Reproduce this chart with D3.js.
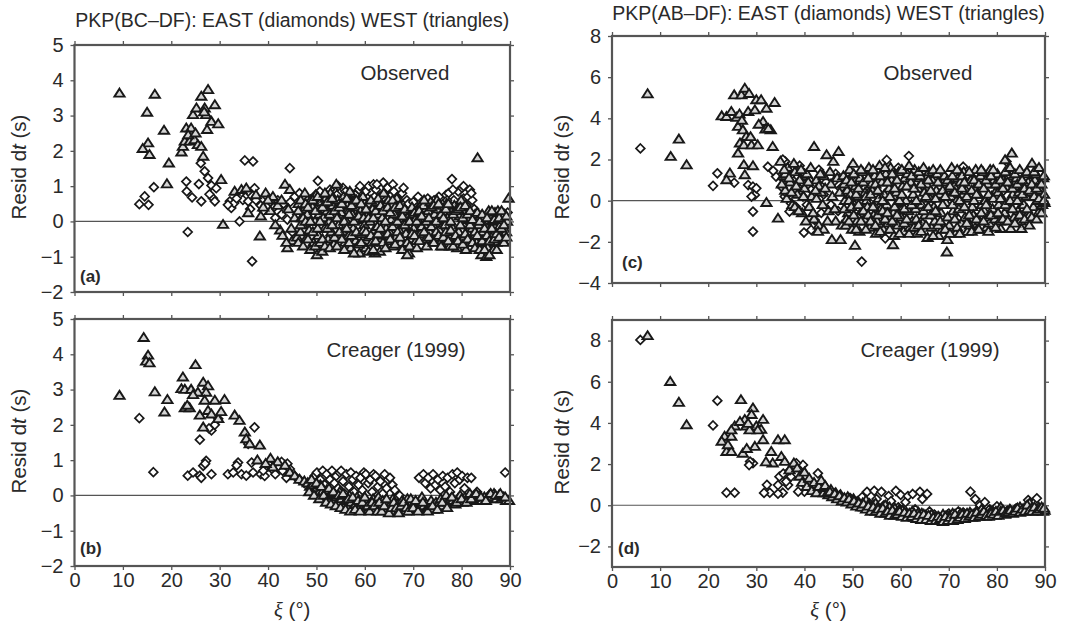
<!DOCTYPE html>
<html>
<head>
<meta charset="utf-8">
<script src="https://cdn.jsdelivr.net/npm/d3@7"></script>
<style>
  body { margin: 0; background: #fff; }
  text { font-family: "Liberation Sans", Arial, sans-serif; fill: #2a2a2a; }
  .tick line { stroke: #555; stroke-width: 1.3; }
</style>
</head>
<body>
<div id="chart"></div>
<script>
// ---- data: [xi (deg), residual dt (s)] ----
var obsBcWest = [
[9.3,3.63],[16.6,3.6],[15.0,3.09],[18.5,2.58],[15.2,2.22],[14.1,2.06],[15.5,1.89],[19.5,1.65],[19.1,1.06],
[22.1,1.96],[22.4,2.12],[22.8,2.27],[23.1,2.64],[23.8,2.27],[24.1,2.64],[24.8,2.31],[25.5,2.17],[26.2,2.12],
[24.5,3.02],[25.2,3.21],[26.2,3.54],[26.9,3.21],[27.6,3.73],[27.2,3.02],[28.3,2.83],[29.0,3.3],[29.7,2.76],
[27.4,2.6],[26.6,1.84],[30.3,1.18],[30.7,-0.09],[38.3,-0.42],[23.5,2.45],[25.0,2.5],[26.8,3.1],
[33.1,0.85],[34.5,0.9],[35.5,0.94],[35.9,0.24],[37.5,0.75],[38.5,0.15],[39.5,0.8],[40.5,0.3],[41.0,0.7],
[42.0,0.45],[42.5,-0.25],[43.0,-0.4],[43.5,1.05],[44.0,-0.75],[44.5,0.9],[45.0,-0.55],[43.8,-0.6],[44.2,0.35],
[45.5,0.1],[46.0,-0.45],[41.5,-0.1],[40.0,0.6],[39.0,0.4],[42.8,0.6],[44.8,-0.2],
[46.3,0.5],[46.7,-0.3],[46.9,0.1],[47.6,0.8],[47.2,-0.1],[47.5,0.35],[47.8,-0.5],
[48.1,0.2],[48.5,-0.25],[48.8,0.6],[49.2,0.4],[49.4,-0.6],[49.7,0.0],[49.9,0.75],
[50.1,-0.95],[50.4,-0.4],[50.6,0.2],[50.9,0.55],[51.2,-0.85],[51.4,0.1],[51.7,-0.2],[51.9,0.65],
[52.2,0.3],[52.4,-0.5],[52.7,0.0],[52.9,0.8],[53.1,-0.3],[53.4,0.45],[53.6,-0.65],[53.9,0.15],
[54.1,1.05],[54.4,0.6],[54.6,-0.1],[54.9,-0.45],[55.1,0.25],[55.4,-0.3],[55.6,0.7],[55.9,-0.6],
[56.2,0.0],[56.4,0.45],[56.7,-0.4],[56.9,0.85],[57.1,-0.75],[57.4,0.2],[57.6,-0.2],[57.9,0.6],
[58.1,-0.55],[58.4,0.05],[58.6,0.4],[58.9,-0.9],[59.1,0.3],[59.4,-0.35],[59.6,0.7],[59.9,-0.1],
[60.2,-0.75],[60.4,0.15],[60.7,-0.45],[60.9,0.5],[61.1,0.0],[61.4,-0.6],[61.6,0.35],[61.9,-0.25],
[62.1,-0.9],[62.4,0.55],[62.6,-0.15],[62.9,0.2],[63.1,-0.85],[63.4,-0.4],[63.6,0.1],[63.9,0.8],
[64.1,0.3],[64.4,-0.2],[64.6,-0.55],[64.9,0.6],[65.1,-0.3],[65.4,0.05],[65.6,0.45],[65.9,-0.7],
[66.1,0.2],[66.4,-0.45],[66.6,0.65],[66.9,-0.1],[67.1,-0.25],[67.4,-0.6],[67.6,0.0],[67.9,0.3],
[68.2,-0.8],[68.5,-0.35],[68.8,0.1],[69.1,-0.9],[69.4,-0.5],[69.6,-0.15],[69.9,0.2],
[70.1,-0.2],[70.4,0.05],[70.6,-0.55],[70.9,0.35],[71.2,0.0],[71.5,-0.35],[71.8,0.5],
[72.1,0.45],[72.4,-0.1],[72.6,-0.5],[72.9,0.2],[73.1,0.3],[73.4,-0.3],[73.6,0.55],[73.9,-0.6],
[74.1,-0.1],[74.4,0.2],[74.6,-0.45],[74.9,0.6],[75.1,0.35],[75.4,-0.25],[75.6,0.05],[75.9,-0.55],
[76.1,-0.7],[76.4,0.25],[76.6,-0.1],[76.9,0.5],[77.1,0.1],[77.4,-0.4],[77.6,-0.7],[77.9,0.3],
[78.2,-0.2],[78.5,0.45],[78.8,-0.55],[79.1,-0.75],[79.4,-0.3],[79.6,0.15],[79.9,0.6],
[80.1,-0.5],[80.4,-0.1],[80.6,0.3],[80.9,-0.8],[81.2,-0.3],[81.5,0.05],[81.8,-0.6],
[82.2,-0.2],[82.5,-0.45],[82.8,0.2],[83.3,1.8],[83.1,-0.6],[83.5,-0.1],[83.8,0.15],
[84.1,-0.95],[84.4,-0.3],[84.6,0.1],[84.9,-0.6],[85.1,-1.0],[85.4,-0.75],[85.6,0.3],[85.9,-0.2],
[86.1,-0.45],[86.4,0.0],[86.6,-0.8],[86.9,0.25],[87.2,-0.6],[87.5,0.3],[87.8,-0.15],
[88.1,-0.4],[88.4,0.1],[88.6,-0.55],[88.9,0.2],[89.2,-0.3],[89.4,0.0],[89.7,0.65]
];
var obsBcWestCloud = [
[46.25,0.3],[46.25,-0.6],[46.75,0.6],[46.75,-0.1],[47.25,0.1],[47.25,-0.7],[47.75,0.5],[47.75,0.0],
[48.25,-0.5],[48.25,0.4],[48.75,0.0],[48.75,-0.8],[49.25,0.6],[49.25,-0.3],[49.75,-0.7],[49.75,0.3],
[50.25,0.7],[50.25,-0.2],[50.75,-0.6],[50.75,0.0],[51.25,0.4],[51.25,-0.5],[51.75,0.8],[51.75,-0.7],
[52.25,-0.2],[52.25,0.55],[52.75,-0.75],[52.75,0.2],[53.25,0.65],[53.25,-0.1],[53.75,-0.45],[53.75,0.3],
[54.25,0.1],[54.25,-0.7],[54.75,0.4],[54.75,-0.3],[55.25,-0.5],[55.25,0.5],[55.75,0.0],[55.75,-0.8],
[56.25,0.65],[56.25,-0.2],[56.75,0.2],[56.75,-0.6],[57.25,-0.4],[57.25,0.45],[57.75,0.0],[57.75,-0.9],
[58.25,0.6],[58.25,-0.3],[58.75,0.15],[58.75,-0.65],[59.25,0.5],[59.25,-0.6],[59.75,-0.25],[59.75,0.1],
[60.25,0.35],[60.25,-0.3],[60.75,-0.85],[60.75,0.1],[61.25,0.6],[61.25,-0.4],[61.75,0.1],[61.75,-0.8],
[62.25,0.3],[62.25,-0.55],[62.75,-0.35],[62.75,0.65],[63.25,0.45],[63.25,-0.2],[63.75,-0.6],[63.75,0.3],
[64.25,0.0],[64.25,-0.75],[64.75,0.4],[64.75,-0.35],[65.25,0.25],[65.25,-0.5],[65.75,-0.15],[65.75,0.6],
[66.25,-0.65],[66.25,0.4],[66.75,0.0],[66.75,-0.3],[67.25,0.45],[67.25,-0.45],[67.75,-0.8],[67.75,0.15],
[68.25,-0.1],[68.25,0.35],[68.75,-0.6],[68.75,-0.95],[69.25,0.0],[69.25,-0.7],[69.75,-0.35],[69.75,0.4],
[70.25,0.25],[70.25,-0.4],[70.75,-0.75],[70.75,0.0],[71.25,0.3],[71.25,-0.55],[71.75,-0.15],[71.75,0.15],
[72.25,-0.3],[72.25,0.6],[72.75,0.0],[72.75,-0.7],[73.25,0.1],[73.25,-0.45],[73.75,0.4],[73.75,-0.15],
[74.25,0.45],[74.25,-0.6],[74.75,0.0],[74.75,-0.3],[75.25,-0.4],[75.25,0.5],[75.75,0.2],[75.75,-0.7],
[76.25,0.1],[76.25,-0.45],[76.75,0.35],[76.75,-0.3],[77.25,-0.55],[77.25,0.5],[77.75,0.0],[77.75,-0.25],
[78.25,0.2],[78.25,-0.7],[78.75,-0.4],[78.75,0.3],[79.25,0.35],[79.25,-0.55],[79.75,-0.1],[79.75,0.4],
[80.25,0.1],[80.25,-0.65],[80.75,-0.35],[80.75,0.45],[81.25,-0.5],[81.25,0.2],[81.75,-0.1],[81.75,0.3],
[82.25,-0.6],[82.25,0.05],[82.75,-0.3],[82.75,-0.75],[83.25,-0.4],[83.25,0.25],[83.75,-0.8],[83.75,0.0],
[84.25,-0.55],[84.25,0.2],[84.75,-0.2],[84.75,-0.8],[85.25,-0.4],[85.25,0.1],[85.75,-0.55],[85.75,-0.95],
[86.25,-0.2],[86.25,0.3],[86.75,-0.5],[86.75,0.05],[87.25,-0.35],[87.25,-0.8],[87.75,0.1],[87.75,-0.45],
[88.25,-0.2],[88.25,0.3],[88.75,-0.6],[88.75,-0.1],[89.25,-0.45],[89.25,0.15]
];
var obsBcEast = [
[13.4,0.49],[14.5,0.71],[15.3,0.47],[16.4,0.97],[23.4,-0.3],[36.7,-1.13],[23.1,1.13],[23.2,0.85],[24.3,0.68],
[25.7,1.06],[26.2,0.57],[26.1,1.65],[26.9,1.42],[27.6,1.23],[28.3,1.02],[28.6,0.66],[29.0,0.57],[27.9,0.77],
[29.3,0.94],[35.2,1.73],[36.9,1.7],[44.5,1.51],[32.1,0.57],[32.4,0.38],[33.0,0.52],[34.1,0.76],[34.8,0.61],
[35.9,0.85],[37.2,0.94],[34.1,0.0],[35.9,0.57],[31.7,0.47],[33.5,0.65],[36.3,0.35],
[37.5,0.6],[38.5,0.45],[39.0,0.3],[39.8,0.7],[40.5,0.55],[41.2,0.4],[42.0,0.6],[42.8,0.2],[43.2,0.5],
[44.0,0.05],[44.6,0.55],[45.0,-0.3],[45.5,0.7],[46.2,0.15],[41.5,0.1],
[47.1,0.45],[47.7,0.2],[48.2,0.6],[48.7,0.1],[49.3,0.3],[49.8,0.75],[50.3,1.15],[50.6,0.5],[50.9,0.05],
[51.3,0.35],[51.8,0.7],[52.1,0.15],[52.5,0.55],[52.8,0.9],[53.3,0.4],[53.7,0.0],[54.2,0.75],[54.7,0.3],
[55.2,0.5],[55.5,0.95],[55.8,0.1],[56.3,0.65],[56.7,0.25],[57.2,0.8],[57.7,0.4],[58.2,0.55],[58.5,0.1],
[58.8,0.9],[59.3,0.3],[59.7,0.7],[60.2,0.85],[60.5,0.45],[60.8,1.0],[61.2,0.2],[61.5,0.6],[61.8,1.05],
[62.3,0.9],[62.7,0.35],[63.2,0.7],[63.5,0.15],[63.8,1.1],[64.3,0.5],[64.7,0.95],[65.1,0.3],[65.5,0.75],
[65.8,1.05],[66.3,0.55],[66.7,0.15],[67.2,0.4],[67.7,0.8],[68.3,0.2],[68.7,0.6],[69.2,0.05],[69.7,0.35],
[70.3,0.25],[70.7,-0.05],[71.3,0.4],[71.7,0.15],[72.3,0.55],[72.7,0.3],[73.3,0.2],[73.7,0.45],
[74.3,0.6],[74.7,0.35],[75.3,0.7],[75.7,0.15],[76.2,0.5],[76.5,0.25],[76.8,0.75],[77.3,0.8],[77.7,0.4],
[78.0,1.2],[78.4,0.6],[78.7,0.3],[79.3,0.85],[79.7,0.5],[80.1,0.95],[80.4,0.65],[80.7,0.35],[81.3,0.7],
[81.7,0.9],[82.2,0.6],[82.6,0.35],[83.2,-0.1],[85.2,0.05],[89.5,0.25],
[46.5,0.8],[47.4,0.0],[48.9,0.45],[49.6,0.15],[50.7,0.85],[51.5,0.55],[52.3,0.25],[53.0,0.7],[53.9,0.55],
[54.5,1.0],[55.0,0.2],[56.0,0.85],[56.9,0.55],[57.5,0.15],[58.0,0.75],[59.0,1.0],[59.9,0.1],[60.6,0.65],
[61.0,0.35],[62.0,0.7],[62.5,1.05],[63.0,0.45],[64.0,0.8],[64.9,0.1],[65.3,0.55],[66.0,0.85],[67.0,0.6],
[68.0,0.95],[69.0,0.5],[70.0,0.55],[71.0,0.7],[72.0,0.1],[73.0,0.65],[74.0,0.1],[75.0,0.5],[76.0,0.05],
[77.0,0.6],[78.2,0.9],[79.0,0.25],[80.4,1.0],[81.0,0.45],[82.0,0.8]
];
var creBcWest = [
[14.3,4.47],[15.2,3.97],[14.8,3.8],[15.5,3.75],[9.3,2.83],[16.6,2.93],[19.2,2.71],[18.6,2.36],[25.0,3.7],
[22.4,3.35],[22.1,3.02],[22.8,3.0],[24.1,3.0],[25.5,2.92],[26.6,3.2],[27.6,3.1],[27.2,2.92],[22.8,2.48],
[23.8,2.48],[26.9,2.69],[29.0,2.69],[31.0,2.71],[25.9,2.27],[27.6,2.4],[28.3,2.3],[29.7,2.17],[26.6,1.93],
[33.1,2.27],[34.1,2.12],[35.2,1.79],[35.5,1.6],[36.2,1.46],[38.3,1.42],[30.3,2.37],[23.3,2.55],[24.5,2.85],
[37.8,1.0],[40.5,1.05],[42.0,0.95],[43.5,0.85],[41.0,0.8],[44.5,0.65],[45.5,0.55],[46.5,0.45],[47.5,0.4],[39.5,0.9],
[48.2,0.35],[48.7,0.25],[49.2,0.3],[49.7,0.15],[50.1,0.2],[50.4,0.05],[50.8,0.3],[51.2,0.1],[51.7,-0.05],
[52.1,0.15],[52.5,-0.1],[52.8,0.0],[53.2,0.05],[53.7,-0.15],[54.1,-0.05],[54.4,-0.2],[54.8,0.1],
[55.2,-0.1],[55.7,-0.25],[56.1,-0.15],[56.4,-0.3],[56.8,0.0],[57.2,-0.2],[57.7,-0.35],[58.1,-0.25],
[58.4,-0.05],[58.8,-0.35],[59.2,-0.3],[59.7,-0.1],[60.1,-0.35],[60.4,-0.2],[60.8,-0.4],[61.2,-0.3],
[61.7,-0.1],[62.1,-0.4],[62.4,-0.25],[62.8,-0.05],[63.2,-0.35],[63.7,-0.15],[64.2,-0.4],[64.7,-0.2],
[65.1,-0.3],[65.4,-0.45],[65.8,-0.1],[66.2,-0.45],[66.7,-0.25],[67.2,-0.4],[67.7,-0.15],[68.1,-0.35],
[68.4,-0.45],[68.8,-0.1],[69.2,-0.3],[69.7,-0.2],[70.2,-0.25],[70.7,-0.4],[71.1,-0.2],[71.4,-0.35],
[71.8,-0.05],[72.2,-0.3],[72.7,-0.4],[73.2,-0.35],[73.7,-0.15],[74.2,-0.4],[74.7,-0.2],[75.2,-0.25],
[75.7,-0.1],[76.1,-0.3],[76.4,-0.15],[76.8,0.0],[77.2,-0.2],[77.7,-0.1],[78.2,-0.15],[78.7,-0.25],
[79.2,-0.1],[79.7,0.0],[80.2,-0.2],[80.7,-0.05],[81.2,-0.1],[81.7,0.05],[82.2,-0.15],[82.7,-0.05],
[83.2,-0.1],[83.7,0.0],[84.2,-0.15],[84.7,-0.05],[85.2,-0.1],[85.7,0.0],[86.2,-0.05],[86.7,0.05],
[87.2,-0.1],[87.7,0.0],[88.2,-0.1],[88.7,-0.05],[89.2,-0.15],[89.8,-0.15],
[48.5,0.1],[49.0,0.45],[49.5,0.0],[50.0,0.35],[50.6,-0.1],[51.0,0.25],[51.5,0.0],[52.0,-0.2],[52.6,0.2],
[53.0,-0.25],[53.5,0.1],[54.0,-0.3],[54.6,0.0],[55.0,-0.35],[55.5,0.05],[56.0,-0.4],[56.6,-0.1],[57.0,-0.45],
[57.5,-0.05],[58.0,-0.4],[58.6,-0.15],[59.0,-0.45],[59.5,-0.2],[60.0,-0.05],[60.6,-0.3],[61.0,-0.45],
[61.5,-0.2],[62.0,-0.3],[62.6,-0.45],[63.0,-0.2],[63.5,-0.45],[64.0,-0.3],[64.5,-0.1],[65.0,-0.5],
[65.6,-0.35],[66.0,-0.2],[66.5,-0.35],[67.0,-0.5],[67.5,-0.3],[68.0,-0.2],[68.6,-0.35],[69.0,-0.45],
[69.5,-0.1],[70.0,-0.35],[70.5,-0.15],[71.0,-0.45],[72.0,-0.2],[73.0,-0.45],[74.0,-0.3],[75.0,-0.4],
[76.0,-0.2],[77.0,-0.35],[78.0,-0.05],[79.0,-0.2],[80.0,-0.1],[81.0,-0.2],[82.0,-0.1],[83.0,0.05],
[84.0,-0.05],[85.0,-0.15],[86.0,0.05],[87.0,0.0],[88.0,0.05],[89.0,-0.05]
];
var creBcEast = [
[13.4,2.19],[16.3,0.66],[25.9,1.58],[28.3,1.84],[29.0,2.0],[29.7,2.17],[37.2,1.93],[35.9,1.46],[27.8,1.9],
[23.4,0.56],[24.5,0.65],[25.9,0.56],[26.6,0.84],[27.2,0.98],[28.3,0.6],[31.7,0.6],[32.8,0.65],[33.8,0.93],
[34.5,0.6],[35.5,0.56],[36.6,0.93],[36.9,0.65],[26.2,0.5],[27.0,0.9],[33.5,0.85],
[38.5,0.6],[39.3,0.55],[40.0,0.9],[40.8,0.75],[41.5,0.6],[42.3,0.8],[43.0,0.7],[43.8,0.5],[44.5,0.75],
[45.5,0.55],[46.5,0.45],[47.5,0.35],[42.8,0.95],[44.0,0.9],[39.0,0.7],
[48.4,0.35],[49.1,0.4],[49.6,0.55],[50.1,0.65],[50.5,0.2],[50.8,0.45],[51.3,0.7],[51.7,0.3],
[52.1,0.6],[52.5,0.1],[52.8,0.45],[53.2,0.7],[53.7,0.35],[54.1,0.55],[54.5,0.2],[54.8,0.65],
[55.1,0.7],[55.5,0.4],[55.8,0.05],[56.2,0.6],[56.7,0.25],[57.1,0.65],[57.5,0.45],[57.8,0.1],
[58.2,0.55],[58.7,0.3],[59.1,0.5],[59.5,0.15],[59.8,0.65],[60.2,0.6],[60.7,0.35],[61.1,0.45],
[61.5,0.1],[61.8,0.6],[62.2,0.55],[62.7,0.25],[63.2,0.4],[63.7,0.05],[64.1,0.6],[64.5,0.2],[64.8,0.45],
[65.2,0.5],[65.7,0.3],[66.2,0.15],[66.6,-0.05],[67.2,0.0],
[71.2,0.5],[72.1,0.6],[72.5,0.35],[73.1,0.5],[73.6,0.2],[74.1,0.6],[74.6,0.3],[75.1,0.45],[75.6,0.15],
[76.1,0.55],[76.6,0.25],[77.1,0.5],[77.6,0.1],[78.1,0.6],[78.6,0.35],[79.1,0.65],[79.6,0.45],
[80.1,0.55],[80.6,0.2],[81.2,0.5],[82.0,0.5],[83.2,0.1],[86.0,0.05],[89.0,0.65]
];
var obsAbWest = [
[7.4,5.18],[13.9,2.98],[12.2,2.14],[15.5,1.73],
[22.8,4.11],[23.8,4.08],[24.8,4.32],[25.9,4.04],[25.4,5.13],[26.9,5.13],[27.6,5.45],[28.3,4.32],[29.7,4.4],
[30.0,4.89],[31.0,4.89],[32.1,4.48],[33.8,4.76],[31.4,3.84],[31.9,3.47],[33.0,3.43],[26.2,3.6],[27.2,3.43],
[27.9,3.11],[26.6,2.79],[27.4,2.7],[29.0,2.7],[30.3,2.7],[26.2,2.3],[33.4,2.62],[27.4,1.74],[29.3,1.69],
[27.6,1.25],[24.5,1.33],[23.8,1.01],[42.0,2.62],[32.1,-0.1],[34.5,-0.86],[28.5,5.2],[26.5,4.2],[30.5,3.7],
[32.5,3.5],[28.8,3.1],[27.0,3.9],
[35.0,1.9],[35.5,1.2],[36.0,0.5],[36.5,1.6],[37.0,0.9],[37.5,-0.2],[38.0,1.4],[38.5,0.3],[39.0,1.0],
[39.5,-0.6],[40.0,0.6],[40.5,1.3],[41.0,-0.3],[41.5,0.2],[42.0,-0.9],[42.5,1.0],[43.0,-1.2],[43.5,0.4],
[44.0,-1.4],[44.6,2.22],[45.0,-0.5],[45.5,0.8],[46.0,1.9],[47.1,2.38],[45.7,-1.9],[47.5,-1.9],[46.5,-1.0],
[44.0,1.2],[38.0,-0.3],[36.0,1.3],[42.5,0.1],[43.0,0.7],
[35.3,0.8],[35.8,1.5],[36.3,0.1],[36.8,1.1],[37.3,0.4],[37.8,1.8],[38.3,0.7],[38.8,-0.5],[39.3,1.5],
[39.8,0.2],[40.3,-1.0],[40.8,0.9],[41.3,1.6],[41.8,-0.6],[42.3,0.5],[42.8,-1.5],[43.3,1.3],[43.8,-0.2],
[44.3,0.6],[44.8,-1.0],[45.3,1.4],[45.8,0.2],[46.3,-0.4],[46.8,1.1],[47.3,0.4],[47.8,-1.2],
[48.1,1.2],[48.4,0.0],[48.6,-1.2],[48.9,0.5],[49.1,-0.6],[49.4,1.5],[49.6,0.3],[49.9,-1.4],
[50.1,1.8],[50.4,-0.2],[50.5,-2.18],[50.6,0.7],[50.9,-1.0],[51.1,0.2],[51.4,-1.5],[51.6,1.1],[51.9,-0.5],
[52.1,1.4],[52.4,-0.9],[52.6,0.4],[52.9,0.0],[53.1,-0.3],[53.4,1.6],[53.6,-1.3],[53.9,0.8],
[54.1,0.5],[54.4,-0.7],[54.6,1.2],[54.9,-1.6],[55.1,-1.0],[55.4,0.1],[55.6,1.7],[55.9,-0.4],
[56.1,0.9],[56.4,-1.4],[56.6,0.3],[56.9,1.3],[57.1,-0.2],[57.4,-1.1],[57.6,0.6],[57.9,1.6],
[58.1,1.0],[58.4,-2.15],[58.5,-0.6],[58.6,-1.7],[58.9,0.2],[59.1,0.4],[59.4,-1.2],[59.6,1.4],[59.9,-0.1],
[60.1,-0.8],[60.4,0.7],[60.6,-1.5],[60.9,1.1],[61.1,0.0],[61.4,1.3],[61.6,-0.5],[61.9,-1.3],
[62.1,0.9],[62.4,-1.0],[62.6,0.3],[62.9,1.5],[63.1,-0.4],[63.4,-1.6],[63.6,0.6],[63.9,1.1],
[64.1,1.2],[64.4,-0.2],[64.6,-1.1],[64.9,0.4],[65.1,-0.7],[65.4,0.8],[65.6,-1.8],[65.9,1.4],
[66.1,0.1],[66.4,-1.3],[66.6,1.0],[66.9,-0.3],[67.1,-1.0],[67.4,0.5],[67.6,1.3],[67.9,-1.7],
[68.1,0.3],[68.4,-0.6],[68.6,-1.4],[68.9,0.9],[69.1,1.2],[69.4,-0.1],[69.6,-2.5],[69.7,-1.9],[69.9,0.6],
[70.1,-1.2],[70.4,0.2],[70.6,1.6],[70.9,-0.5],[71.1,0.7],[71.4,-1.6],[71.6,0.0],[71.9,1.1],
[72.1,-0.4],[72.4,0.9],[72.6,-1.1],[72.9,0.3],[73.1,1.4],[73.4,-0.8],[73.6,0.5],[73.9,-1.5],
[74.1,0.1],[74.4,-1.2],[74.6,1.0],[74.9,-0.3],[75.1,-0.7],[75.4,0.6],[75.6,1.5],[75.9,-1.4],
[76.1,0.3],[76.4,-1.0],[76.6,1.2],[76.9,-0.2],[77.1,1.4],[77.4,-0.5],[77.6,0.0],[77.9,-1.3],
[78.1,0.8],[78.4,-1.1],[78.6,1.5],[78.9,0.2],[79.1,-0.4],[79.4,1.0],[79.6,-0.9],[79.9,0.5],
[80.1,1.3],[80.4,-0.2],[80.6,-1.0],[80.8,-1.36],[80.9,0.7],[81.1,0.1],[81.4,1.0],[81.6,-0.6],[81.7,1.98],
[82.1,0.6],[82.4,-0.3],[82.6,1.2],[82.9,-1.36],[83.1,2.3],[83.3,0.3],[83.6,-0.8],[83.9,0.9],
[84.1,1.1],[84.4,-0.5],[84.6,0.4],[84.9,-1.0],[85.1,-1.36],[85.4,0.6],[85.6,-0.2],[85.9,1.3],
[86.1,0.2],[86.5,0.9],[86.8,-0.7],[87.1,0.4],[87.3,1.81],[87.6,-0.3],[87.9,1.0],
[88.1,1.3],[88.4,0.0],[88.6,-0.6],[88.9,0.7],[89.1,0.5],[89.4,-0.2],[89.6,1.1],[89.8,0.3],[89.9,-0.1]
];
var obsAbWestCloud = [
[48.25,0.8],[48.25,-0.4],[48.75,-0.9],[48.75,1.0],[49.25,0.0],[49.25,-1.0],[49.75,0.9],[49.75,-0.3],
[50.25,1.3],[50.25,-0.7],[50.75,0.3],[50.75,-1.4],[51.25,0.6],[51.25,-0.2],[51.75,1.5],[51.75,-1.0],
[52.25,-0.5],[52.25,0.9],[52.75,-1.4],[52.75,0.2],[53.25,1.1],[53.25,-0.7],[53.75,0.3],[53.75,-1.0],
[54.25,-0.3],[54.25,1.5],[54.75,0.8],[54.75,-1.2],[55.25,0.5],[55.25,-0.7],[55.75,1.2],[55.75,-1.5],
[56.25,-0.5],[56.25,0.0],[56.75,1.6],[56.75,-0.9],[57.25,0.9],[57.25,-0.6],[57.75,0.2],[57.75,-1.4],
[58.25,1.3],[58.25,-1.0],[58.75,0.6],[58.75,-0.3],[59.25,-0.7],[59.25,1.0],[59.75,0.0],[59.75,-1.6],
[60.25,0.3],[60.25,1.5],[60.75,-0.4],[60.75,-1.1],[61.25,0.7],[61.25,-0.9],[61.75,1.7],[61.75,-1.6],
[62.25,-0.2],[62.25,1.2],[62.75,0.6],[62.75,-1.3],[63.25,0.0],[63.25,-0.9],[63.75,1.4],[63.75,-1.2],
[64.25,0.8],[64.25,-1.5],[64.75,-0.5],[64.75,1.6],[65.25,0.2],[65.25,-1.2],[65.75,1.0],[65.75,-0.3],
[66.25,-0.7],[66.25,0.5],[66.75,1.5],[66.75,-1.7],[67.25,0.1],[67.25,-0.5],[67.75,0.9],[67.75,-1.2],
[68.25,1.5],[68.25,-1.0],[68.75,-0.2],[68.75,0.5],[69.25,-1.4],[69.25,0.2],[69.75,1.0],[69.75,-0.8],
[70.25,0.7],[70.25,-1.6],[70.75,-0.2],[70.75,1.2],[71.25,0.4],[71.25,-0.9],[71.75,1.5],[71.75,-1.3],
[72.25,0.0],[72.25,-1.6],[72.75,1.2],[72.75,0.6],[73.25,-0.3],[73.25,0.9],[73.75,-1.1],[73.75,0.2],
[74.25,1.4],[74.25,-0.7],[74.75,0.5],[74.75,-1.5],[75.25,0.0],[75.25,1.0],[75.75,-0.9],[75.75,0.3],
[76.25,0.8],[76.25,-1.4],[76.75,1.5],[76.75,-0.6],[77.25,0.6],[77.25,-1.0],[77.75,1.0],[77.75,-0.2],
[78.25,0.3],[78.25,-1.5],[78.75,1.2],[78.75,-0.7],[79.25,0.1],[79.25,1.5],[79.75,-1.3],[79.75,0.8],
[80.25,0.4],[80.25,-0.6],[80.75,1.0],[80.75,0.1],[81.25,-0.9],[81.25,0.6],[81.75,1.4],[81.75,-0.2],
[82.25,0.9],[82.25,-1.0],[82.75,0.0],[82.75,1.6],[83.25,-0.4],[83.25,0.6],[83.75,1.3],[83.75,-1.1],
[84.25,0.0],[84.25,0.8],[84.75,1.5],[84.75,-0.7],[85.25,0.3],[85.25,1.0],[85.75,-0.9],[85.75,0.6],
[86.25,1.4],[86.25,-0.4],[86.75,0.5],[86.75,-1.2],[87.25,-0.8],[87.25,0.8],[87.75,0.2],[87.75,1.4],
[88.25,0.6],[88.25,-0.9],[88.75,1.6],[88.75,0.1],[89.25,-0.6],[89.25,0.8],[89.75,1.2],[89.75,0.0]
];
var obsAbEast = [
[5.9,2.54],[21.9,1.33],[21.0,0.72],[25.4,0.87],[28.3,0.76],[29.3,0.68],[29.7,0.28],[29.0,0.2],[29.3,-0.53],
[29.3,-1.5],[32.4,1.65],[34.1,1.17],[35.2,0.68],[35.9,0.2],[37.2,-0.13],[36.9,-0.53],[38.6,0.84],[39.7,0.2],
[40.0,1.33],[41.4,0.52],[39.9,-1.55],[41.4,-1.42],[42.1,-0.94],[36.0,1.9],[37.5,1.5],[38.5,1.2],[33.5,1.45],
[35.5,2.0],[30.0,0.6],
[57.1,1.98],[61.7,2.17],[51.9,-2.96],[56.8,-1.83],[73.0,1.65],[82.0,1.9],
[44.0,0.3],[46.0,0.9],[47.0,-0.5],[48.5,0.4],[50.0,1.2],[51.0,-0.8],[52.5,0.6],[53.5,1.4],[54.5,-0.3],
[55.5,0.9],[57.0,-1.0],[58.5,0.3],[59.5,1.6],[60.5,-0.4],[62.0,0.8],[63.0,-1.2],[64.5,0.5],[65.5,1.1],
[66.5,-0.7],[67.5,0.2],[68.5,1.3],[70.0,-0.1],[71.0,0.9],[72.0,-0.9],[73.5,0.4],[75.0,1.1],[76.0,-0.5],
[77.5,0.7],[79.0,1.3],[80.0,-0.6],[81.0,0.4],[83.0,1.0],[84.0,-0.3],[85.5,0.6],[86.5,-0.7],[88.0,0.2],
[89.0,-0.4],[89.8,-0.2],[87.0,0.9],[78.0,-1.0],[69.0,-1.3],
[35.8,1.0],[36.5,0.3],[37.0,1.2],[38.0,0.5],[38.2,-0.3],[39.0,1.7],[39.5,0.9],[40.5,-0.2],[41.0,1.0],
[42.0,0.3],[43.0,1.5],[43.5,-0.6],[44.5,0.9],[45.5,-0.2],[46.5,1.3],[47.5,0.6]
];
var creAbWest = [
[7.4,8.23],[12.1,6.0],[13.9,4.99],[15.5,3.9],[26.8,5.12],[29.3,4.72],[29.0,4.4],[27.6,4.16],[31.4,4.16],
[25.5,3.84],[27.9,3.84],[30.0,3.84],[31.0,3.68],[23.4,3.34],[24.8,3.34],[22.8,3.1],[23.8,2.6],[24.8,2.6],
[27.2,2.52],[29.7,2.85],[33.1,2.6],[34.5,3.17],[35.9,3.17],[35.2,2.36],[35.9,2.12],[36.9,1.71],[37.8,2.04],
[33.4,2.04],[31.4,3.17],[30.3,3.65],[28.6,3.65],[24.8,3.65],[26.6,4.06],[28.3,3.97],[24.1,2.93],[28.0,2.75],[32.0,2.1],
[38.5,1.8],[39.0,1.4],[39.5,1.1],[40.0,1.6],[40.5,0.9],[41.0,1.3],[41.5,0.7],[42.0,1.1],[42.5,0.6],
[43.0,0.9],[43.5,1.2],[44.0,0.6],[44.5,0.85],[45.0,0.5],[45.5,0.75],[46.0,0.45],[46.5,0.6],[47.0,0.35],
[47.5,0.5],[48.0,0.3],[49.0,0.4],
[50.2,0.3],[50.7,0.1],[51.2,0.15],[51.7,0.0],[52.1,0.1],[52.4,-0.1],[52.8,0.25],[53.2,0.0],[53.7,-0.15],
[54.1,-0.05],[54.4,-0.2],[54.8,0.1],[55.2,-0.1],[55.7,-0.25],[56.1,-0.2],[56.4,-0.35],[56.8,0.0],
[57.2,-0.25],[57.7,-0.1],[58.1,-0.3],[58.4,-0.45],[58.8,-0.15],[59.2,-0.35],[59.7,-0.2],[60.1,-0.4],
[60.4,-0.25],[60.8,-0.5],[61.2,-0.35],[61.7,-0.5],[62.1,-0.45],[62.4,-0.3],[62.8,-0.6],[63.2,-0.5],
[63.7,-0.35],[64.1,-0.55],[64.4,-0.4],[64.8,-0.65],[65.2,-0.5],[65.7,-0.6],[66.1,-0.65],[66.4,-0.45],
[66.8,-0.7],[67.2,-0.55],[67.7,-0.7],[68.1,-0.6],[68.4,-0.75],[68.8,-0.45],[69.2,-0.65],[69.7,-0.5],
[70.1,-0.55],[70.4,-0.7],[70.8,-0.4],[71.2,-0.5],[71.7,-0.6],[72.1,-0.55],[72.4,-0.4],[72.8,-0.65],
[73.2,-0.45],[73.7,-0.55],[74.1,-0.5],[74.4,-0.35],[74.8,-0.6],[75.2,-0.45],[75.7,-0.3],[76.1,-0.5],
[76.4,-0.35],[76.8,-0.2],[77.2,-0.4],[77.7,-0.55],[78.2,-0.45],[78.7,-0.3],[79.2,-0.35],[79.7,-0.5],
[80.1,-0.4],[80.4,-0.25],[80.8,-0.1],[81.2,-0.35],[81.7,-0.45],[82.2,-0.3],[82.7,-0.2],[83.2,-0.35],
[83.7,-0.25],[84.1,-0.2],[84.4,-0.3],[84.8,-0.1],[85.2,-0.25],[85.7,-0.15],[86.1,-0.2],[86.4,-0.1],
[86.8,0.1],[87.2,-0.15],[87.7,-0.25],[88.2,-0.2],[88.7,-0.1],[89.2,-0.2],[89.6,-0.3],[89.9,-0.25],
[44.3,0.95],[44.8,0.6],[45.3,0.65],[45.8,0.4],[46.3,0.55],[46.8,0.3],[47.3,0.45],[47.8,0.2],[48.3,0.35],
[48.8,0.15],[49.3,0.3],[49.8,0.05],[50.3,0.2],[50.8,-0.05],[51.3,0.1],[51.8,-0.1],[52.3,0.05],[52.8,-0.2],
[53.3,-0.05],[53.8,-0.3],[54.3,-0.1],[54.8,-0.3],[55.3,-0.2],[55.8,-0.4],[56.3,-0.15],[56.8,-0.4],
[57.3,-0.3],[57.8,-0.5],[58.3,-0.25],[58.8,-0.5],[59.3,-0.45],[59.8,-0.3],[60.3,-0.55],[60.8,-0.35],
[61.3,-0.6],[61.8,-0.4],[62.3,-0.55],[62.8,-0.4],[63.3,-0.65],[63.8,-0.5],[64.3,-0.7],[64.8,-0.45],
[65.3,-0.7],[65.8,-0.5],[66.3,-0.75],[66.8,-0.6],[67.3,-0.75],[67.8,-0.55],[68.3,-0.65],[68.8,-0.8],
[69.3,-0.55],[69.8,-0.75],[70.3,-0.6],[70.8,-0.75],[71.3,-0.45],[71.8,-0.7],[72.3,-0.6],[72.8,-0.45],
[73.3,-0.65],[73.8,-0.4],[74.3,-0.55],[74.8,-0.45],[75.3,-0.6],[75.8,-0.35],[76.3,-0.55],[76.8,-0.45],
[77.3,-0.3],[77.8,-0.5],[78.3,-0.55],[78.8,-0.4],[79.3,-0.45],[79.8,-0.3],[80.3,-0.5],[80.8,-0.3],
[81.3,-0.25],[81.8,-0.4],[82.3,-0.35],[82.8,-0.25],[83.3,-0.4],[83.8,-0.3],[84.3,-0.15],[84.8,-0.35],
[85.3,-0.2],[85.8,-0.3],[86.3,0.0],[86.8,-0.25],[87.3,-0.3],[87.8,-0.1],[88.3,-0.3],[88.8,-0.2],
[89.3,-0.1],[89.8,-0.15]
];
var creAbEast = [
[5.9,8.03],[21.9,5.08],[21.0,3.88],[23.8,0.61],[25.5,0.61],[32.8,0.61],[35.5,0.61],[29.3,2.04],
[34.8,1.39],[36.6,0.98],[34.5,0.98],[37.2,1.39],[39.7,1.96],[40.0,0.66],[41.4,0.74],[42.8,1.55],[43.4,0.66],
[36.2,1.15],[38.7,0.66],[40.1,0.99],[42.2,0.66],[32.2,0.99],[34.5,0.56],[28.7,2.12],[28.5,1.95],[38.3,2.04],
[35.6,1.54],[37.0,1.7],[31.6,0.6],[44.0,0.9],[45.0,0.7],[46.0,0.5],[47.5,0.45],[48.5,0.3],[49.5,0.35],
[51.0,0.2],[52.0,0.4],[53.0,0.65],[53.5,0.1],[54.5,0.7],[55.0,0.3],[56.0,0.65],[56.5,0.0],[57.5,0.45],
[58.0,0.2],[59.0,0.7],[59.5,-0.1],[60.0,0.5],[61.0,0.15],[61.5,0.45],[62.5,0.55],[63.0,-0.2],[64.0,0.65],
[64.5,0.3],[65.5,0.55],[66.0,-0.3],[67.0,-0.45],[68.0,-0.6],[69.0,-0.55],[70.0,-0.4],[71.0,-0.5],[72.0,-0.3],
[73.0,-0.35],[74.5,0.66],[75.5,0.3],[76.5,0.0],[77.5,0.15],[78.5,-0.2],[80.0,-0.05],[82.0,-0.3],[84.0,-0.15],
[86.5,0.25],[88.3,0.34],[89.5,-0.2]
];
var xTicks = [0, 10, 20, 30, 40, 50, 60, 70, 80, 90];
var yTicksBc = [-2, -1, 0, 1, 2, 3, 4, 5];
var yTicksAbObs = [-4, -2, 0, 2, 4, 6, 8];
var yTicksAbCre = [-2, 0, 2, 4, 6, 8];

var panels = [
  {left: 74.5, right: 510, top: 45, bottom: 292, ydom: [-2, 5], yticks: yTicksBc,
   east: obsBcEast, west: obsBcWest.concat(obsBcWestCloud),
   title: "PKP(BC\u2013DF): EAST (diamonds) WEST (triangles)", titleY: 27, note: "Observed", noteX: 405, noteY: 80,
   tag: "(a)", tagX: 80, tagY: 282, labX: 26, labY: 167, xlab: false},
  {left: 74.5, right: 510, top: 319, bottom: 566, ydom: [-2, 5], yticks: yTicksBc,
   east: creBcEast, west: creBcWest,
   note: "Creager (1999)", noteX: 396, noteY: 357, tag: "(b)", tagX: 80, tagY: 554, labX: 26, labY: 441, xlab: true},
  {left: 612, right: 1045, top: 36, bottom: 283, ydom: [-4, 8], yticks: yTicksAbObs,
   east: obsAbEast, west: obsAbWest.concat(obsAbWestCloud),
   title: "PKP(AB\u2013DF): EAST (diamonds) WEST (triangles)", titleY: 20, note: "Observed", noteX: 928, noteY: 80,
   tag: "(c)", tagX: 622, tagY: 268, labX: 569, labY: 167, xlab: false},
  {left: 612, right: 1045, top: 320, bottom: 567, ydom: [-3, 9], yticks: yTicksAbCre,
   east: creAbEast, west: creAbWest,
   note: "Creager (1999)", noteX: 930, noteY: 357, tag: "(d)", tagX: 618, tagY: 554, labX: 569, labY: 442, xlab: true}
];

var svg = d3.select("#chart").append("svg")
    .attr("width", 1065)
    .attr("height", 634)
    .style("background", "#fff");

var triPath = "M0,-4.7L5.1,3.3L-5.1,3.3Z";
var diaPath = "M0,-4.4L4.4,0L0,4.4L-4.4,0Z";

panels.forEach(function (p) {
    var x = d3.scaleLinear().domain([0, 90]).range([p.left, p.right]);
    var y = d3.scaleLinear().domain(p.ydom).range([p.bottom, p.top]);
    var g = svg.append("g");

    // axes: ticks outside on all four sides
    g.append("g").attr("transform", "translate(" + p.left + ",0)")
        .call(d3.axisLeft(y).tickValues(p.yticks).tickSize(4).tickPadding(7).tickFormat(d3.format("d")));
    g.append("g").attr("transform", "translate(" + p.right + ",0)")
        .call(d3.axisRight(y).tickValues(p.yticks).tickSize(4).tickFormat(""));
    g.append("g").attr("transform", "translate(0," + p.top + ")")
        .call(d3.axisTop(x).tickValues(xTicks).tickSize(4).tickFormat(""));
    g.append("g").attr("transform", "translate(0," + p.bottom + ")")
        .call(d3.axisBottom(x).tickValues(xTicks).tickSize(4).tickPadding(3)
            .tickFormat(p.xlab ? d3.format("d") : ""));
    g.selectAll(".domain").remove();
    g.selectAll(".tick text").style("font-size", "20px").style("fill", "#2a2a2a")
        .style("font-family", "'Liberation Sans', Arial, sans-serif");

    // zero line
    g.append("line")
        .attr("x1", p.left).attr("x2", p.right)
        .attr("y1", y(0)).attr("y2", y(0))
        .attr("stroke", "#555").attr("stroke-width", 1.2);

    // points: EAST diamonds, WEST triangles
    g.append("g").selectAll("path")
        .data(p.east)
        .enter().append("path")
        .attr("d", diaPath)
        .attr("transform", function (d) { return "translate(" + x(d[0]) + "," + y(d[1]) + ")"; })
        .attr("fill", "#fff")
        .attr("stroke", "#181818")
        .attr("stroke-width", 1.7);
    g.append("g").selectAll("path")
        .data(p.west)
        .enter().append("path")
        .attr("d", triPath)
        .attr("transform", function (d) { return "translate(" + x(d[0]) + "," + y(d[1]) + ")"; })
        .attr("fill", "#d4d4d4")
        .attr("stroke", "#181818")
        .attr("stroke-width", 1.9);

    // frame
    g.append("rect")
        .attr("x", p.left).attr("y", p.top)
        .attr("width", p.right - p.left).attr("height", p.bottom - p.top)
        .attr("fill", "none").attr("stroke", "#555").attr("stroke-width", 2.2);

    if (p.title) {
        g.append("text")
            .attr("x", (p.left + p.right) / 2).attr("y", p.titleY)
            .attr("text-anchor", "middle")
            .style("font-size", "19.5px")
            .text(p.title);
    }
    g.append("text")
        .attr("x", p.noteX).attr("y", p.noteY)
        .attr("text-anchor", "middle")
        .style("font-size", "20.5px")
        .text(p.note);
    g.append("text")
        .attr("x", p.tagX).attr("y", p.tagY)
        .style("font-size", "17px").style("font-weight", "bold")
        .text(p.tag);

    // y label: Resid dt (s)
    var yl = g.append("text")
        .attr("transform", "translate(" + p.labX + "," + p.labY + ") rotate(-90)")
        .attr("text-anchor", "middle")
        .style("font-size", "20.5px");
    yl.append("tspan").text("Resid d");
    yl.append("tspan").style("font-style", "italic").text("t");
    yl.append("tspan").text(" (s)");

    if (p.xlab) {
        var xl = g.append("text")
            .attr("x", (p.left + p.right) / 2).attr("y", 617)
            .attr("text-anchor", "middle")
            .style("font-size", "20.5px");
        xl.append("tspan").style("font-family", "'Liberation Serif', 'DejaVu Serif', serif")
            .style("font-style", "italic").text("\u03be");
        xl.append("tspan").text(" (\u00b0)");
    }
});
</script>
</body>
</html>
